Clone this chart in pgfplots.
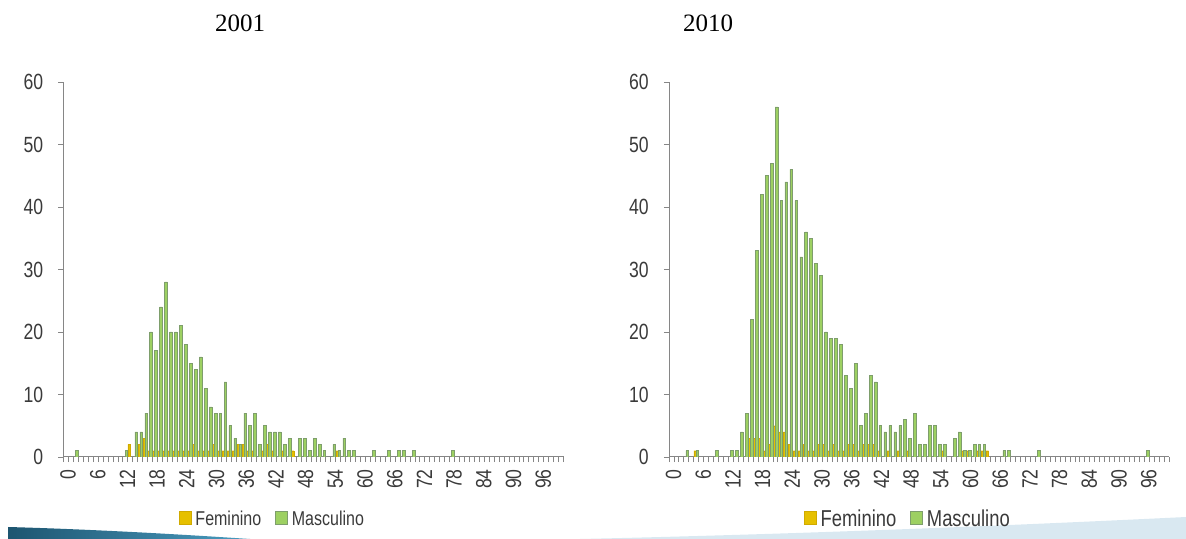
\documentclass[border=0pt]{standalone}
\usepackage{pgfplots}
\pgfplotsset{compat=1.18}
\usepackage{fontspec}
\setmainfont{Liberation Sans}
\newfontfamily\chartfont{Liberation Sans}[FakeStretch=0.8]
\newfontfamily\titlefont{Liberation Serif}
\definecolor{fem}{HTML}{E6C000}
\definecolor{femedge}{HTML}{D0AA00}
\definecolor{masc}{HTML}{9DD062}
\definecolor{mascedge}{HTML}{7E9E6C}
\definecolor{axisgray}{HTML}{868686}
\definecolor{txt}{HTML}{3A3A3A}
\definecolor{teal}{HTML}{1D5570}
\definecolor{tealb}{HTML}{4A9CC0}
\definecolor{band}{HTML}{D9E8F1}

\pgfplotsset{
  agechart/.style={
    scale only axis, width=250pt, height=187.5pt,
    anchor=south west,
    xmin=-0.5, xmax=100.5, ymin=0, ymax=60,
    ybar, 
    axis x line*=bottom, axis y line*=left,
    axis line style={draw=axisgray, line width=0.5pt, -},
    tick align=outside, tick pos=left,
    ytick={0,10,...,60},
    xtick={0,6,...,96},
    minor xtick={-0.5,0.5,...,100.5},
    major x tick style={draw=none},
    every tick/.style={draw=axisgray, line width=0.45pt},
    major tick length=2.6pt, minor tick length=2.6pt,
    /pgf/number format/assume math mode=true,
    ticklabel style={font=\chartfont\fontsize{11}{13}\selectfont, text=txt},
    yticklabel style={xshift=-4pt},
    xticklabel style={rotate=90, anchor=east, yshift=-1pt},
    legend columns=2,
    legend style={draw=none, fill=none, text=txt, anchor=center,
      /tikz/every even column/.append style={column sep=5pt}},
    legend image code/.code={\fill[##1] (0pt,-0.2em) rectangle (0.6em,0.45em);},
  },
  fembar/.style={fill=fem, draw=femedge, line width=0.2pt, bar width=0.55, bar shift=-0.22},
  mascbar/.style={fill=masc, draw=mascedge, line width=0.3pt, bar width=0.55, bar shift=0.2},
}

\begin{document}
\begin{tikzpicture}
\path[use as bounding box] (0,0) rectangle (593pt,269.5pt);

% slide decoration at the bottom
\fill[band] (290pt,0pt) .. controls (400pt,2.5pt) and (500pt,6.5pt) .. (593pt,11pt) -- (593pt,0pt) -- cycle;
\shade[left color=teal, right color=tealb] (4pt,0pt) -- (4pt,6pt) .. controls (40pt,5pt) and (80pt,3pt) .. (125pt,0pt) -- cycle;

\node[font=\titlefont\fontsize{12.5}{14}\selectfont] at (120pt,258pt) {2001};
\node[font=\titlefont\fontsize{12.5}{14}\selectfont] at (354pt,258pt) {2010};

% 2001
\begin{axis}[agechart, at={(31.75pt,41pt)},
  legend style={at={(axis description cs:0.42,-0.168)}, font=\chartfont\fontsize{10}{12}\selectfont}]
\addplot[fembar] coordinates {
 (13,2) (15,2) (16,3) (17,1) (18,1) (19,1) (20,1) (21,1) (22,1) (23,1) (24,1)
 (25,1) (26,2) (27,1) (28,1) (29,1) (30,2) (31,1) (32,1) (33,1) (34,1) (35,2)
 (36,2) (37,1) (38,1) (40,1) (41,2) (42,1) (44,1) (46,1) (55,1) };
\addplot[mascbar] coordinates {
 (2,1) (12,1) (14,4) (15,4) (16,7) (17,20) (18,17) (19,24) (20,28) (21,20)
 (22,20) (23,21) (24,18) (25,15) (26,14) (27,16) (28,11) (29,8) (30,7) (31,7)
 (32,12) (33,5) (34,3) (35,2) (36,7) (37,5) (38,7) (39,2) (40,5) (41,4) (42,4)
 (43,4) (44,2) (45,3) (47,3) (48,3) (49,1) (50,3) (51,2) (52,1) (54,2) (55,1)
 (56,3) (57,1) (58,1) (62,1) (65,1) (67,1) (68,1) (70,1) (78,1) };
\legend{Feminino, Masculino}
\end{axis}

% 2010
\begin{axis}[agechart, at={(334.5pt,41pt)},
  legend style={at={(axis description cs:0.48,-0.168)}, font=\chartfont\fontsize{11.5}{13}\selectfont}]
\addplot[fembar] coordinates {
 (5,1) (16,3) (17,3) (18,3) (19,1) (20,2) (21,5) (22,4) (23,4) (24,2) (25,1)
 (26,1) (27,2) (28,1) (29,1) (30,2) (31,2) (32,1) (33,2) (34,1) (35,1) (36,2)
 (37,2) (38,1) (39,2) (40,2) (41,2) (42,1) (44,1) (46,1) (48,1) (55,1) (59,1)
 (60,1) (62,1) (63,1) (64,1) };
\addplot[mascbar] coordinates {
 (3,1) (5,1) (9,1) (12,1) (13,1) (14,4) (15,7) (16,22) (17,33) (18,42) (19,45)
 (20,47) (21,56) (22,41) (23,44) (24,46) (25,41) (26,32) (27,36) (28,35) (29,31)
 (30,29) (31,20) (32,19) (33,19) (34,18) (35,13) (36,11) (37,15) (38,5) (39,7)
 (40,13) (41,12) (42,5) (43,4) (44,5) (45,4) (46,5) (47,6) (48,3) (49,7) (50,2)
 (51,2) (52,5) (53,5) (54,2) (55,2) (57,3) (58,4) (59,1) (60,1) (61,2) (62,2)
 (63,2) (67,1) (68,1) (74,1) (96,1) };
\legend{Feminino, Masculino}
\end{axis}
\end{tikzpicture}
\end{document}
